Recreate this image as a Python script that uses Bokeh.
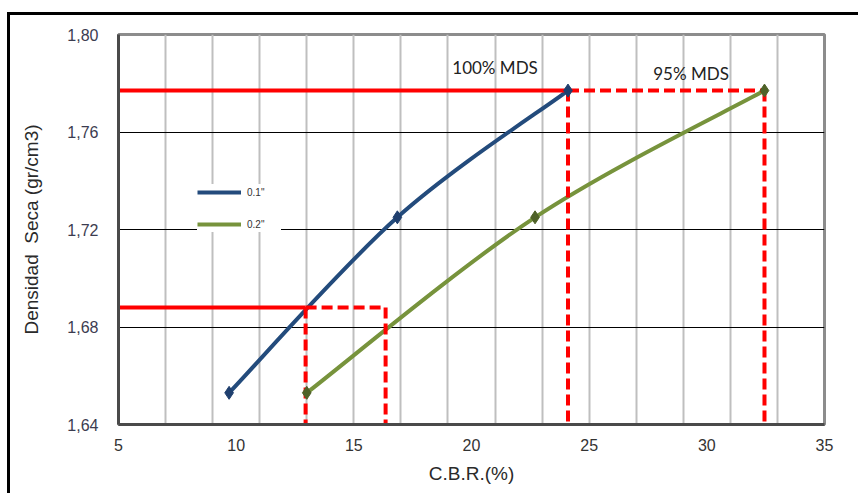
import numpy as np
from bokeh.plotting import figure
from bokeh.models import (FixedTicker, CustomJSTickFormatter, Legend, LegendItem,
                          Range1d, Label)
from bokeh.embed import file_html
from bokeh.resources import INLINE

# ---------------- data ----------------
density = [1.653, 1.725, 1.777]          # dry density (gr/cm3)
cbr_01 = [9.7, 16.85, 24.1]               # CBR at 0.1"
cbr_02 = [13.0, 22.7, 32.45]              # CBR at 0.2"
series_labels = ['0.1"', '0.2"']

mds_levels = [1.777, 1.688]               # 100% MDS and 95% MDS densities
mds_cbr_01 = [24.1, 12.95]                # CBR (0.1") at those densities
mds_cbr_02 = [32.45, 16.35]               # CBR (0.2") at those densities
mds_labels = ["100% MDS", "95% MDS"]
mds_label_x = [21.0, 29.33]
mds_label_y = [1.7864, 1.7842]

x_ticks = [5, 10, 15, 20, 25, 30, 35]
x_grid = [7, 9, 11, 13, 15, 17, 19, 21, 23, 25, 27, 29, 31, 33]
y_ticks = [1.64, 1.68, 1.72, 1.76, 1.80]
x_min, x_max = 5, 35
y_min, y_max = 1.64, 1.80

# ---------------- figure ----------------
p = figure(width=858, height=493, output_backend="svg", toolbar_location=None,
           x_range=Range1d(x_min, x_max), y_range=Range1d(y_min, y_max),
           min_border_left=118, min_border_right=34, min_border_top=34,
           min_border_bottom=69)
# outer black frame (top and left edges)
p.styles = {"background": "linear-gradient(#000,#000) 7px 12px / 100% 3px no-repeat, "
                          "linear-gradient(#000,#000) 7px 12px / 3px 100% no-repeat"}

p.background_fill_color = "white"
p.border_fill_color = "white"
p.border_fill_alpha = 0.0
p.outline_line_color = "#8C8C8C"
p.outline_line_width = 3

# grids
p.xgrid.ticker = FixedTicker(ticks=x_grid)
p.xgrid.grid_line_color = "#BFBFBF"
p.xgrid.grid_line_width = 2
p.ygrid.ticker = FixedTicker(ticks=y_ticks)
p.ygrid.grid_line_color = "#000000"
p.ygrid.grid_line_width = 1

# axes
for ax in (p.xaxis[0], p.yaxis[0]):
    ax.axis_line_color = "#4A4A4A"
    ax.axis_line_width = 3
    ax.major_tick_line_color = None
    ax.minor_tick_line_color = None
    ax.major_label_text_font = "Liberation Sans"
    ax.major_label_text_font_size = "16px"
    ax.axis_label_text_font = "Liberation Sans"
    ax.axis_label_text_font_size = "19px"
    ax.axis_label_text_font_style = "normal"
    ax.axis_label_text_color = "#2A2A2A"

p.xaxis.ticker = FixedTicker(ticks=x_ticks)
p.xaxis.major_label_text_color = "#333333"
p.xaxis.major_label_standoff = 8
p.xaxis.axis_label = "C.B.R.(%)"
p.xaxis.axis_label_standoff = 9

p.yaxis.ticker = FixedTicker(ticks=y_ticks)
p.yaxis.formatter = CustomJSTickFormatter(code="return tick.toFixed(2).replace('.', ',');")
p.yaxis.major_label_text_color = "#3C3C50"
p.yaxis.major_label_standoff = 14
p.yaxis.axis_label = "Densidad\u00a0\u00a0Seca (gr/cm3)"
p.yaxis.axis_label_standoff = 22


def smooth_bezier(xs, ys):
    """Catmull-Rom style smoothing (like a spreadsheet's smoothed line) as Bezier segments."""
    pts = np.column_stack([xs, ys]).astype(float)
    n = len(pts)
    segs = {k: [] for k in ("x0", "y0", "x1", "y1", "cx0", "cy0", "cx1", "cy1")}
    for i in range(n - 1):
        p0 = pts[max(i - 1, 0)]
        p1 = pts[i]
        p2 = pts[i + 1]
        p3 = pts[min(i + 2, n - 1)]
        c1 = p1 + (p2 - p0) / 6.0
        c2 = p2 - (p3 - p1) / 6.0
        segs["x0"].append(p1[0]); segs["y0"].append(p1[1])
        segs["x1"].append(p2[0]); segs["y1"].append(p2[1])
        segs["cx0"].append(c1[0]); segs["cy0"].append(c1[1])
        segs["cx1"].append(c2[0]); segs["cy1"].append(c2[1])
    return segs


blue = "#234B7C"
blue_mk = "#1F3F6E"
green = "#77933C"
green_mk = "#4F6228"

# curves
curves = []
for xs, col in ((cbr_01, blue), (cbr_02, green)):
    s = smooth_bezier(xs, density)
    r = p.bezier(x0=s["x0"], y0=s["y0"], x1=s["x1"], y1=s["y1"],
                 cx0=s["cx0"], cy0=s["cy0"], cx1=s["cx1"], cy1=s["cy1"],
                 line_color=col, line_width=4)
    curves.append(r)

# red reference lines
red = "#FF0000"
for lvl, c1, c2 in zip(mds_levels, mds_cbr_01, mds_cbr_02):
    p.line([x_min, c1], [lvl, lvl], line_color=red, line_width=4)
    p.line([c1, c2], [lvl, lvl], line_color=red, line_width=4, line_dash="11 5")
    p.line([c1, c1], [lvl, y_min], line_color=red, line_width=4, line_dash="11 5")
    p.line([c2, c2], [lvl, y_min], line_color=red, line_width=4, line_dash="11 5")

# markers
m1 = p.scatter(cbr_01, density, marker="diamond", size=13, fill_color=blue_mk,
               line_color=blue_mk)
m2 = p.scatter(cbr_02, density, marker="diamond", size=13, fill_color=green_mk,
               line_color=green_mk)

legend = Legend(items=[LegendItem(label=series_labels[0], renderers=[curves[0]], index=0),
                       LegendItem(label=series_labels[1], renderers=[curves[1]], index=0)],
                location=(79, 192), orientation="vertical",
                background_fill_color="white", background_fill_alpha=1.0,
                border_line_color=None, padding=10, margin=0,
                glyph_width=44, glyph_height=16, spacing=16,
                label_text_font="Liberation Sans", label_text_font_size="10px",
                label_text_color="#333333", label_standoff=6, label_width=34)
p.add_layout(legend, "center")

# annotations
for t, x, y in zip(mds_labels, mds_label_x, mds_label_y):
    p.add_layout(Label(x=x, y=y, text=t, text_align="center", text_baseline="middle",
                       text_font="Lato", text_font_size="17px", text_color="#222222"))

open("out.html", "w").write(file_html(p, INLINE))
